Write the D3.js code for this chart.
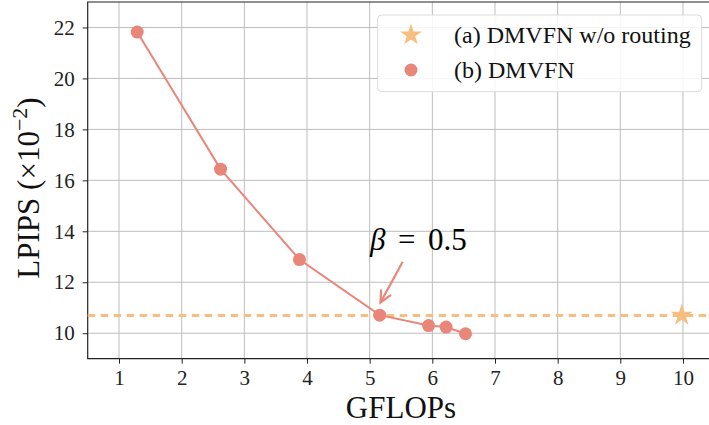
<!DOCTYPE html>
<html lang="en">
<head>
    <meta charset="UTF-8">
    <title>LPIPS vs GFLOPs</title>
    <script src="https://d3js.org/d3.v7.min.js"></script>
    <style>
        body { margin: 0; background: #fff; }
        svg { display: block; }
        svg text { font-family: "Liberation Serif", "Times New Roman", serif; }
    </style>
</head>
<body>
<svg id="chart" width="709" height="425"></svg>
<script>
// data
const gflops = [1.29, 2.62, 3.88, 5.16, 5.94, 6.22, 6.53];
const lpips  = [21.82, 16.44, 12.89, 10.71, 10.30, 10.24, 9.98];
const baseGflops = [9.98];
const baseLpips  = [10.7];
const xTicks = [1, 2, 3, 4, 5, 6, 7, 8, 9, 10];
const yTicks = [10, 12, 14, 16, 18, 20, 22];
const legendLabels = ["(a) DMVFN w/o routing", "(b) DMVFN"];

const salmon = "#e9867a";
const orange = "#f6bf7f";

const svg = d3.select("#chart");
const pLeft = 87.7, pRight = 714.3, pTop = 2, pBottom = 358.7;

const x = d3.scaleLinear().domain([0.5, 10.5]).range([pLeft, pRight]);
const y = d3.scaleLinear().domain([9, 23]).range([pBottom, pTop]);

// grid
const grid = svg.append("g").attr("stroke", "#bdbdbd").attr("stroke-width", 1);
grid.selectAll("line.vx").data(xTicks).join("line")
    .attr("x1", d => x(d)).attr("x2", d => x(d)).attr("y1", pTop).attr("y2", pBottom);
grid.selectAll("line.hy").data(yTicks).join("line")
    .attr("x1", pLeft).attr("x2", pRight).attr("y1", d => y(d)).attr("y2", d => y(d));

// axes
const xAxis = svg.append("g").attr("transform", `translate(0,${pBottom})`)
    .call(d3.axisBottom(x).tickValues(xTicks).tickSize(5).tickPadding(6).tickFormat(d3.format("d")));
const yAxis = svg.append("g").attr("transform", `translate(${pLeft},0)`)
    .call(d3.axisLeft(y).tickValues(yTicks).tickSize(5).tickPadding(8).tickFormat(d3.format("d")));
[xAxis, yAxis].forEach(a => {
    a.attr("font-family", null).attr("font-size", null);
    a.select(".domain").remove();
    a.selectAll("text").style("font-size", "21px").attr("fill", "#222");
    a.selectAll("line").attr("stroke", "#222");
});

// spines
svg.append("path")
    .attr("d", `M${pRight},${pTop}H${pLeft}V${pBottom}H${pRight}`)
    .attr("fill", "none").attr("stroke", "#222").attr("stroke-width", 1.2);

// baseline dashed line
svg.append("line")
    .attr("x1", pLeft).attr("x2", pRight)
    .attr("y1", y(baseLpips[0])).attr("y2", y(baseLpips[0]))
    .attr("stroke", orange).attr("stroke-width", 3).attr("stroke-dasharray", "7.5,5.5");

// DMVFN curve
const pts = gflops.map((g, i) => [g, lpips[i]]);
svg.append("path")
    .datum(pts)
    .attr("d", d3.line().x(d => x(d[0])).y(d => y(d[1])))
    .attr("fill", "none").attr("stroke", salmon).attr("stroke-width", 2);
svg.selectAll("circle.pt").data(pts).join("circle")
    .attr("class", "pt")
    .attr("cx", d => x(d[0])).attr("cy", d => y(d[1])).attr("r", 6.5)
    .attr("fill", salmon);

// star
const star = d3.symbol().type(d3.symbolStar);
svg.selectAll("path.star").data(baseGflops).join("path")
    .attr("class", "star")
    .attr("d", star.size(150))
    .attr("transform", (d, i) => `translate(${x(d)},${y(baseLpips[i])})`)
    .attr("fill", orange);

// annotation
const a0 = [402.7, 261.7], a1 = [380.5, 302.5];
svg.append("line")
    .attr("x1", a0[0]).attr("y1", a0[1]).attr("x2", a1[0]).attr("y2", a1[1])
    .attr("stroke", salmon).attr("stroke-width", 2.2);
const ang = Math.atan2(a1[1] - a0[1], a1[0] - a0[0]);
const hl = 13, hw = 0.45;
svg.append("path")
    .attr("d", `M${a1[0] - hl * Math.cos(ang - hw)},${a1[1] - hl * Math.sin(ang - hw)}L${a1[0]},${a1[1]}L${a1[0] - hl * Math.cos(ang + hw)},${a1[1] - hl * Math.sin(ang + hw)}`)
    .attr("fill", "none").attr("stroke", salmon).attr("stroke-width", 2.2);
const ann = svg.append("text").attr("y", 249.5).style("font-size", "31px").attr("fill", "#000");
ann.append("tspan").attr("x", 370).attr("font-style", "italic").text("β");
ann.append("tspan").attr("x", 398).text("=");
ann.append("tspan").attr("x", 428).text("0.5");

// legend
const lg = svg.append("g");
lg.append("rect").attr("x", 377.7).attr("y", 15).attr("width", 324).attr("height", 76.7)
    .attr("rx", 4).attr("fill", "#fff").attr("fill-opacity", 0.85)
    .attr("stroke", "#dcdcdc").attr("stroke-width", 1);
lg.append("path").attr("d", star.size(150)).attr("transform", "translate(411,35)").attr("fill", orange);
lg.append("circle").attr("cx", 411).attr("cy", 70).attr("r", 6.5).attr("fill", salmon);
lg.selectAll("text").data(legendLabels).join("text")
    .attr("x", 454).attr("y", (d, i) => 43 + i * 34.5)
    .style("font-size", "24px").attr("fill", "#111").text(d => d);

// axis labels
svg.append("text").attr("x", 401).attr("y", 418)
    .attr("text-anchor", "middle").style("font-size", "31px").attr("fill", "#111").text("GFLOPs");
const yl = svg.append("text").attr("transform", "translate(39,188) rotate(-90)")
    .attr("text-anchor", "middle").style("font-size", "31px").attr("fill", "#111");
yl.append("tspan").text("LPIPS (×10");
yl.append("tspan").style("font-size", "22px").attr("dy", -12).text("−2");
yl.append("tspan").attr("dy", 12).text(")");
</script>
</body>
</html>
